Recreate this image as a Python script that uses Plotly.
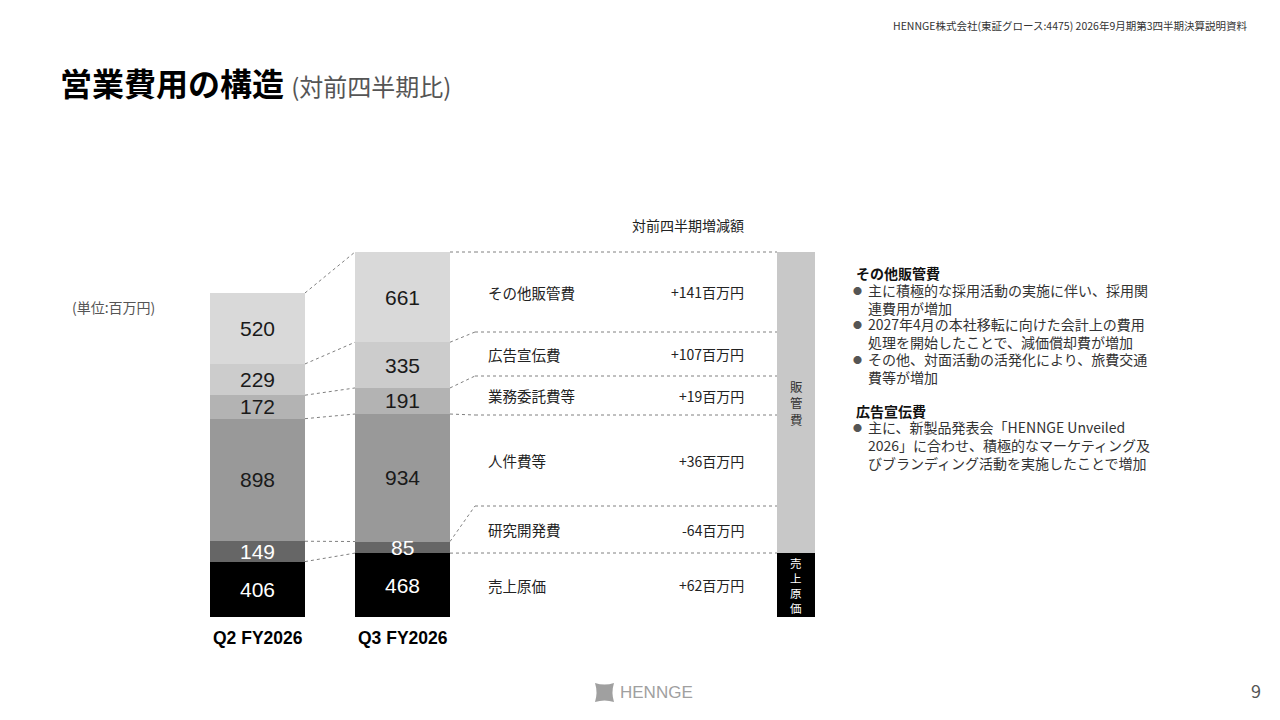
import plotly.graph_objects as go

# the page body has an 8px margin, so the figure is drawn 8px in from the corner
OFF = 8
W, H = 1280 - 2 * OFF, 720 - 2 * OFF

# data (百万円)
categories = ["Q2 FY2026", "Q3 FY2026"]
items = ["売上原価", "研究開発費", "人件費等", "業務委託費等", "広告宣伝費", "その他販管費"]
q2_values = [406, 149, 898, 172, 229, 520]
q3_values = [468, 85, 934, 191, 335, 661]
qoq_diff = [62, -64, 36, 19, 107, 141]
group_names = ["売上原価", "販管費"]

colors = ["#000000", "#666666", "#999999", "#b3b3b3", "#cccccc", "#d9d9d9"]
value_font_colors = ["#ffffff", "#ffffff", "#1a1a1a", "#1a1a1a", "#1a1a1a", "#1a1a1a"]

# right-hand notes: heading, then bullets (each bullet = its wrapped lines)
notes = [
    ("その他販管費", [
        ["主に積極的な採用活動の実施に伴い、採用関", "連費用が増加"],
        ["2027年4月の本社移転に向けた会計上の費用", "処理を開始したことで、減価償却費が増加"],
        ["その他、対面活動の活発化により、旅費交通", "費等が増加"],
    ]),
    ("広告宣伝費", [
        ["主に、新製品発表会「HENNGE Unveiled",
         "2026」に合わせ、積極的なマーケティング及",
         "びブランディング活動を実施したことで増加"],
    ]),
]

# layout, in page pixels
BASE_PX, TOP_PX = 617, 252
X0_PX, UNIT_PX = 257.5, 145.0
BAR_W = 95 / UNIT_PX
SIDE_X = (796 - X0_PX) / UNIT_PX
SIDE_W = 38 / UNIT_PX
BEND_X = (475 - X0_PX) / UNIT_PX
LABEL_X = (486 - X0_PX) / UNIT_PX
DIFF_X = (746 - X0_PX) / UNIT_PX
LABEL_EDGES_PX = [617, 553, 506, 415, 376, 332, 252]
NOTE_LINE = 17.2

JP = "Noto Sans CJK JP"
NUM = "Liberation Sans, Arial"

scale = (BASE_PX - TOP_PX) / max(sum(q2_values), sum(q3_values))


def to_val(y):
    return (BASE_PX - y) / scale


def px(x):
    return (x - OFF) / W


def py(y):
    return 1 - (y - OFF) / H


def cumsum(vals):
    out = [0]
    for v in vals:
        out.append(out[-1] + v)
    return out


def page_text(x, y, text, size, color, xanchor="left", family=JP):
    return dict(x=px(x), y=py(y), xref="paper", yref="paper", xanchor=xanchor,
                yanchor="middle", text=text, showarrow=False, align="left",
                font=dict(family=family, size=size, color=color))


cum2 = cumsum(q2_values)
cum3 = cumsum(q3_values)
edges = [to_val(p) for p in LABEL_EDGES_PX]

fig = go.Figure()

for i, item in enumerate(items):
    fig.add_trace(go.Bar(
        x=[0, 1], y=[q2_values[i], q3_values[i]], width=BAR_W,
        marker=dict(color=colors[i], line=dict(width=0)),
        name=item, hoverinfo="skip",
    ))

# 売上原価 / 販管費 side bar
fig.add_trace(go.Bar(x=[SIDE_X], y=[q3_values[0]], width=SIDE_W,
                     marker=dict(color="#000000", line=dict(width=0)), hoverinfo="skip"))
fig.add_trace(go.Bar(x=[SIDE_X], y=[sum(q3_values[1:])], width=SIDE_W,
                     marker=dict(color="#c8c8c8", line=dict(width=0)), hoverinfo="skip"))

dot = dict(color="#808080", width=1, dash="dot")
shapes = []
for k in range(1, len(cum2)):
    shapes.append(dict(type="line", xref="x", yref="y", x0=BAR_W / 2, y0=cum2[k],
                       x1=1 - BAR_W / 2, y1=cum3[k], line=dot))
    shapes.append(dict(type="line", xref="x", yref="y", x0=1 + BAR_W / 2, y0=cum3[k],
                       x1=BEND_X, y1=edges[k], line=dot))
    shapes.append(dict(type="line", xref="x", yref="y", x0=BEND_X, y0=edges[k],
                       x1=SIDE_X - SIDE_W / 2, y1=edges[k], line=dot))

# footer logo mark
lx0, lx1, ly0, ly1 = 595, 614, 683, 702
mx, my = (lx0 + lx1) / 2, (ly0 + ly1) / 2
d = 3
path = (f"M {px(lx0)},{py(ly0)} Q {px(mx)},{py(ly0 + d)} {px(lx1)},{py(ly0)} "
        f"Q {px(lx1 - d)},{py(my)} {px(lx1)},{py(ly1)} "
        f"Q {px(mx)},{py(ly1 - d)} {px(lx0)},{py(ly1)} "
        f"Q {px(lx0 + d)},{py(my)} {px(lx0)},{py(ly0)} Z")
shapes.append(dict(type="path", xref="paper", yref="paper", path=path,
                   fillcolor="#a0a0a0", line=dict(width=0)))

ann = []
# segment values
for xi, vals, cum in [(0, q2_values, cum2), (1, q3_values, cum3)]:
    for i, v in enumerate(vals):
        ann.append(dict(x=xi, y=cum[i] + v / 2, xref="x", yref="y", text=str(v),
                        showarrow=False, font=dict(family=NUM, size=21, color=value_font_colors[i])))

for xi, c in enumerate(categories):
    ann.append(dict(x=xi, y=0, xref="x", yref="y", yanchor="top", yshift=-9,
                    text=f"<b>{c}</b>", showarrow=False,
                    font=dict(family=NUM, size=17.5, color="#000000")))

# item labels and QoQ differences
for i, item in enumerate(items):
    yc = (edges[i] + edges[i + 1]) / 2
    ann.append(dict(x=LABEL_X, y=yc, xref="x", yref="y", xanchor="left", text=item,
                    showarrow=False, font=dict(family=JP, size=14.5, color="#222222")))
    dv = qoq_diff[i]
    ann.append(dict(x=DIFF_X, y=yc, xref="x", yref="y", xanchor="right",
                    text=f"{'+' if dv > 0 else ''}{dv}百万円",
                    showarrow=False, font=dict(family=JP, size=14, color="#222222")))

# side bar texts
ann.append(dict(x=SIDE_X, y=q3_values[0] / 2, xref="x", yref="y",
                text="<br>".join(group_names[0]), showarrow=False,
                font=dict(family=JP, size=11.5, color="#ffffff")))
ann.append(dict(x=SIDE_X, y=to_val(403), xref="x", yref="y",
                text="<br>".join(group_names[1]), showarrow=False,
                font=dict(family=JP, size=12.5, color="#333333")))

ann.append(page_text(688, 225, "対前四半期増減額", 14, "#222222", xanchor="center"))
ann.append(page_text(70, 307, "(単位:百万円)", 14, "#555555"))

# page texts
ann.append(page_text(58, 82, "<b>営業費用の構造</b> <span style='font-size:24px;color:#555555'>(対前四半期比)</span>",
                     32, "#000000"))
ann.append(page_text(1250, 26, "HENNGE株式会社(東証グロース:4475) 2026年9月期第3四半期決算説明資料",
                     10.5, "#333333", xanchor="right"))
ann.append(page_text(618, 692, "HENNGE", 17, "#a0a0a0",
                     family="Liberation Sans Narrow, Liberation Sans"))
ann.append(page_text(1256, 690, "9", 18, "#555555", xanchor="center"))

# right-hand notes
ny = 273
for heading, bullets in notes:
    ann.append(page_text(854, ny, f"<b>{heading}</b>", 14, "#111111"))
    ny += NOTE_LINE
    for lines in bullets:
        ann.append(page_text(851, ny, "●", 9, "#555555"))
        mid = ny + NOTE_LINE * (len(lines) - 1) / 2
        ann.append(page_text(866, mid, "<br>".join(lines), 14, "#333333"))
        ny += NOTE_LINE * len(lines)
    ny += NOTE_LINE

fig.update_layout(
    width=W, height=H, barmode="stack", bargap=0,
    margin=dict(l=0, r=0, t=0, b=0, pad=0),
    paper_bgcolor="#ffffff", plot_bgcolor="#ffffff",
    showlegend=False,
    xaxis=dict(range=[(OFF - X0_PX) / UNIT_PX, (OFF + W - X0_PX) / UNIT_PX],
               visible=False, fixedrange=True),
    yaxis=dict(range=[to_val(OFF + H), to_val(OFF)], visible=False, fixedrange=True),
    shapes=shapes, annotations=ann,
)

fig.write_html("out.html")
